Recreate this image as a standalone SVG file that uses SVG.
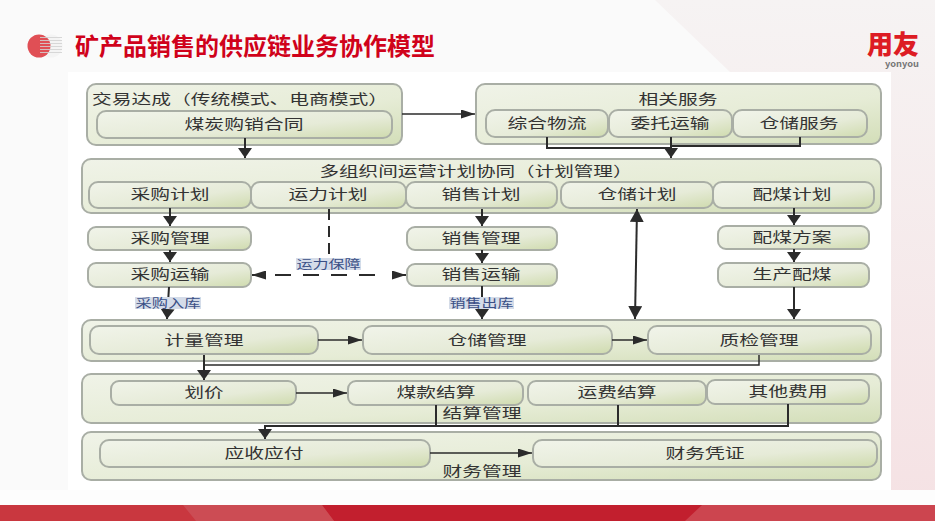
<svg xmlns="http://www.w3.org/2000/svg" width="935" height="521" viewBox="0 0 935 521">
<style>
text{font-family:"Noto Sans CJK SC","Noto Sans",sans-serif;text-anchor:middle;fill:#333}
.l{font-size:14px}
.o{fill:url(#go);stroke:#a9aea5;stroke-width:2}
.i{fill:url(#gi);stroke:#a9aea5;stroke-width:2}
.c{fill:none;stroke:#2b2b2b;stroke-width:2}
.t{fill:none;stroke:#2b2b2b;stroke-width:1.5}
.tag{font-size:12px;fill:#3a4f86}
.tb{fill:#d5dce9}
</style>
<defs>
<linearGradient id="go" x1="0" y1="0" x2="1" y2="1"><stop offset="0" stop-color="#f0f3e8"/><stop offset=".6" stop-color="#e6ecd6"/><stop offset="1" stop-color="#d3deb8"/></linearGradient>
<linearGradient id="gi" x1="0" y1="0" x2="1" y2="1"><stop offset="0" stop-color="#f1f4ea"/><stop offset=".6" stop-color="#e6ebd8"/><stop offset="1" stop-color="#cfdbae"/></linearGradient>
<linearGradient id="bgr" x1="0" x2="0" y1="0" y2="1"><stop offset="0" stop-color="#f6f3f3"/><stop offset="1" stop-color="#f5e2e4"/></linearGradient>
<marker id="h" viewBox="0 0 14 9" refX="14" refY="4.500" markerWidth="14" markerHeight="9" markerUnits="userSpaceOnUse" orient="auto-start-reverse"><path d="M0 0L14 4.500L0 9Z" fill="#2b2b2b"/></marker>
<marker id="v" viewBox="0 0 10 14" refX="10" refY="7" markerWidth="10" markerHeight="14" markerUnits="userSpaceOnUse" orient="auto-start-reverse"><path d="M0 0L10 7L0 14Z" fill="#2b2b2b"/></marker>
<marker id="g" viewBox="0 0 13 14" refX="13" refY="7" markerWidth="13" markerHeight="14" markerUnits="userSpaceOnUse" orient="auto-start-reverse"><path d="M0 0L13 7L0 14Z" fill="#2b2b2b"/></marker>
</defs>
<g id="background">
<rect width="935" height="521" fill="#fafafa"/>
<path d="M655 0H935V505H700L891 380V72H730Z" fill="url(#bgr)"/>
<rect x="0" y="490" width="935" height="15" fill="#fdfdfd"/>
<rect x="0" y="505" width="935" height="16" fill="#c21f2e"/>
<path d="M0 505H322L334 521H0Z" fill="#c9373f"/>
<path d="M183 505H322L334 521H196Z" fill="#cc4c54"/>
<path d="M702 505H935V521H685Z" fill="#cc454f"/>
<rect x="68" y="72" width="823" height="418" fill="#fff"/>
</g>
<g id="title">
<circle cx="51" cy="46" r="11.500" fill="#f4f4f4"/>
<circle cx="39" cy="46" r="11.500" fill="#e04f55"/>
<path d="M40 37.500H62M40 40.500H62M40 43.500H62M40 46.500H62M40 49.500H62M40 52.500H62" stroke="#d2d2d2" stroke-width="1.200" opacity=".85"/>
<text x="255" y="55" textLength="360" lengthAdjust="spacingAndGlyphs" style="font-size:24px;font-weight:700;fill:#d0021b">矿产品销售的供应链业务协作模型</text>
</g>
<g id="logo">
<text x="893" y="54" textLength="52" lengthAdjust="spacingAndGlyphs" style="font-size:26px;font-weight:900;fill:#dd1c24">用友</text>
<text x="902" y="67" textLength="34" lengthAdjust="spacingAndGlyphs" style="font-size:8.500px;font-weight:700;fill:#777">yonyou</text>
</g>
<g id="node-contract"><rect class="o" x="87" y="84" width="315" height="61" rx="9"/><text class="l" x="240" y="104" textLength="296" lengthAdjust="spacingAndGlyphs">交易达成（传统模式、电商模式）</text><rect class="i" x="97" y="111" width="295" height="27" rx="9"/><text class="l" x="244" y="129" textLength="119" lengthAdjust="spacingAndGlyphs">煤炭购销合同</text></g>
<g id="node-services"><rect class="o" x="476" y="84" width="405" height="60" rx="9"/><text class="l" x="678" y="104" textLength="79" lengthAdjust="spacingAndGlyphs">相关服务</text>
<rect class="i" x="486" y="110" width="122" height="27" rx="9"/><text class="l" x="547" y="128" textLength="79" lengthAdjust="spacingAndGlyphs">综合物流</text>
<rect class="i" x="609" y="110" width="123" height="27" rx="9"/><text class="l" x="670" y="128" textLength="79" lengthAdjust="spacingAndGlyphs">委托运输</text>
<rect class="i" x="733" y="110" width="134" height="27" rx="9"/><text class="l" x="799" y="128" textLength="79" lengthAdjust="spacingAndGlyphs">仓储服务</text></g>
<g id="node-plan"><rect class="o" x="82" y="159" width="799" height="54" rx="9"/><text class="l" x="476" y="176" textLength="313" lengthAdjust="spacingAndGlyphs">多组织间运营计划协同（计划管理）</text>
<rect class="i" x="89" y="182" width="162" height="26" rx="9"/><text class="l" x="170" y="199" textLength="79" lengthAdjust="spacingAndGlyphs">采购计划</text>
<rect class="i" x="251" y="182" width="155" height="26" rx="9"/><text class="l" x="328" y="199" textLength="79" lengthAdjust="spacingAndGlyphs">运力计划</text>
<rect class="i" x="406" y="182" width="151" height="26" rx="9"/><text class="l" x="481" y="199" textLength="79" lengthAdjust="spacingAndGlyphs">销售计划</text>
<rect class="i" x="561" y="182" width="152" height="26" rx="9"/><text class="l" x="637" y="199" textLength="79" lengthAdjust="spacingAndGlyphs">仓储计划</text>
<rect class="i" x="713" y="182" width="161" height="26" rx="9"/><text class="l" x="792" y="199" textLength="79" lengthAdjust="spacingAndGlyphs">配煤计划</text></g>
<g id="node-mid">
<rect class="i" x="88" y="227" width="163" height="23" rx="8"/><text class="l" x="170" y="243" textLength="79" lengthAdjust="spacingAndGlyphs">采购管理</text>
<rect class="i" x="407" y="227" width="150" height="23" rx="8"/><text class="l" x="481" y="243" textLength="79" lengthAdjust="spacingAndGlyphs">销售管理</text>
<rect class="i" x="718" y="226" width="151" height="23" rx="8"/><text class="l" x="792" y="242" textLength="79" lengthAdjust="spacingAndGlyphs">配煤方案</text>
<rect class="i" x="88" y="263" width="163" height="24" rx="8"/><text class="l" x="170" y="279" textLength="79" lengthAdjust="spacingAndGlyphs">采购运输</text>
<rect class="i" x="407" y="264" width="150" height="22" rx="8"/><text class="l" x="481" y="279" textLength="79" lengthAdjust="spacingAndGlyphs">销售运输</text>
<rect class="i" x="718" y="263" width="151" height="24" rx="8"/><text class="l" x="792" y="279" textLength="79" lengthAdjust="spacingAndGlyphs">生产配煤</text></g>
<g id="node-measure"><rect class="o" x="82" y="320" width="799" height="41" rx="9"/>
<rect class="i" x="90" y="326" width="228" height="28" rx="9"/><text class="l" x="204" y="345" textLength="79" lengthAdjust="spacingAndGlyphs">计量管理</text>
<rect class="i" x="363" y="326" width="249" height="28" rx="9"/><text class="l" x="487" y="345" textLength="79" lengthAdjust="spacingAndGlyphs">仓储管理</text>
<rect class="i" x="648" y="326" width="223" height="28" rx="9"/><text class="l" x="759" y="345" textLength="79" lengthAdjust="spacingAndGlyphs">质检管理</text></g>
<g id="node-settle"><rect class="o" x="82" y="374" width="799" height="49" rx="9"/>
<rect class="i" x="111" y="381" width="185" height="24" rx="8"/><text class="l" x="204" y="397" textLength="39" lengthAdjust="spacingAndGlyphs">划价</text>
<rect class="i" x="348" y="381" width="175" height="24" rx="8"/><text class="l" x="436" y="397" textLength="79" lengthAdjust="spacingAndGlyphs">煤款结算</text>
<rect class="i" x="528" y="381" width="178" height="24" rx="8"/><text class="l" x="617" y="397" textLength="79" lengthAdjust="spacingAndGlyphs">运费结算</text>
<rect class="i" x="707" y="380" width="162" height="24" rx="8"/><text class="l" x="788" y="396" textLength="79" lengthAdjust="spacingAndGlyphs">其他费用</text>
<text class="l" x="482" y="418" textLength="79" lengthAdjust="spacingAndGlyphs">结算管理</text></g>
<g id="node-finance"><rect class="o" x="82" y="432" width="799" height="48" rx="9"/>
<rect class="i" x="100" y="440" width="330" height="27" rx="9"/><text class="l" x="264" y="458" textLength="79" lengthAdjust="spacingAndGlyphs">应收应付</text>
<rect class="i" x="533" y="440" width="344" height="27" rx="9"/><text class="l" x="705" y="458" textLength="79" lengthAdjust="spacingAndGlyphs">财务凭证</text>
<text class="l" x="482" y="476" textLength="79" lengthAdjust="spacingAndGlyphs">财务管理</text></g>
<g id="connectors">
<path class="t" d="M402 114H475" marker-end="url(#h)"/>
<path class="c" d="M245 138V158" marker-end="url(#v)"/>
<path class="c" d="M547 137V148H671M800 137V146H671M671 137V158" marker-end="url(#v)"/>
<path class="c" d="M170 208V226" marker-end="url(#v)"/>
<path class="c" d="M170 250V262" marker-end="url(#v)"/>
<path class="c" d="M482 209V226" marker-end="url(#v)"/>
<path class="c" d="M482 250V263" marker-end="url(#v)"/>
<path class="c" d="M794 208V225" marker-end="url(#v)"/>
<path class="c" d="M794 249V262" marker-end="url(#v)"/>
<path class="c" d="M794 287V319" marker-end="url(#v)"/>
<path class="c" d="M169 287L167 319" marker-end="url(#v)"/>
<path class="c" d="M482 286V319" marker-end="url(#v)"/>
<path class="c" d="M637 209L635 319" marker-start="url(#g)" marker-end="url(#g)"/>
<path class="c" d="M329 209V258" stroke-dasharray="11 6"/>
<path class="c" d="M275 275H382" stroke-dasharray="16 12"/>
<path class="c" d="M266 275H252" marker-end="url(#h)"/>
<path class="c" d="M392 275H406" marker-end="url(#h)"/>
<path class="t" d="M318 340H362" marker-end="url(#h)"/>
<path class="t" d="M612 340H647" marker-end="url(#h)"/>
<path class="t" d="M204 365H759V355"/>
<path class="c" d="M204 355V380" marker-end="url(#v)" stroke-width="2.500"/>
<path class="t" d="M296 393H347" marker-end="url(#h)"/>
<path class="c" d="M436 405V426H265V439" marker-end="url(#v)"/>
<path class="c" d="M618 405V426H436M788 404V426H618"/>
<path class="t" d="M430 453H532" marker-end="url(#h)"/>
<rect class="tb" x="296" y="258" width="65" height="12"/><text class="tag" x="328.500" y="268.500" textLength="64" lengthAdjust="spacingAndGlyphs">运力保障</text>
<rect class="tb" x="135" y="297" width="66" height="12"/><text class="tag" x="168" y="307.500" textLength="65" lengthAdjust="spacingAndGlyphs">采购入库</text>
<rect class="tb" x="449" y="297" width="65" height="12"/><text class="tag" x="481.500" y="307.500" textLength="64" lengthAdjust="spacingAndGlyphs">销售出库</text>
</g>
</svg>
